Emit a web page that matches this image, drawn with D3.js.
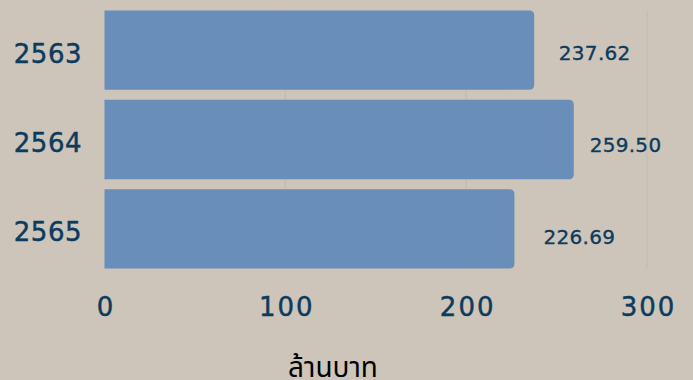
<!DOCTYPE html>
<html>
<head>
<meta charset="utf-8">
<script src="https://cdn.jsdelivr.net/npm/d3@7"></script>
<style>
  html, body { margin: 0; padding: 0; background: #cdc5b9; }
  svg { display: block; }
</style>
</head>
<body>
<svg id="chart" width="693" height="380"></svg>
<script>
const categories = ["2563", "2564", "2565"];
const values = [237.62, 259.50, 226.69];
const xTicks = [0, 100, 200, 300];
const xTitle = "ล้านบาท";

const W = 693, H = 380;
const svg = d3.select("#chart");
svg.append("rect").attr("width", W).attr("height", H).attr("fill", "#cdc5b9");

const x = d3.scaleLinear().domain([0, 300]).range([104.5, 647]);
const y = d3.scaleBand().domain(categories).range([5.5, 273.5]).paddingInner(0.112).paddingOuter(0.056);
const yLab = d3.scalePoint().domain(categories).range([53, 236.7]);

const textColor = "#0c3b5e";
const font = "'DejaVu Sans', sans-serif";

// grid
svg.append("g").selectAll("line").data(xTicks.slice(1)).join("line")
  .attr("x1", d => x(d)).attr("x2", d => x(d))
  .attr("y1", y(categories[0])).attr("y2", y(categories[categories.length - 1]) + y.bandwidth())
  .attr("stroke", "#c2baad").attr("stroke-width", 1);

// bars (rounded on the right)
const r = 5;
function barPath(v, c) {
  const x0 = x(0), x1 = x(v), y0 = y(c), y1 = y(c) + y.bandwidth();
  return `M${x0},${y0}H${x1 - r}Q${x1},${y0} ${x1},${y0 + r}V${y1 - r}Q${x1},${y1} ${x1 - r},${y1}H${x0}Z`;
}
svg.append("g").selectAll("path").data(categories).join("path")
  .attr("d", (c, i) => barPath(values[i], c))
  .attr("fill", "#698eb9");

// value labels
svg.append("g").selectAll("text").data(categories).join("text")
  .attr("x", (c, i) => 599.7 + 0.779 * (x(values[i]) - 540.6))
  .attr("y", c => yLab(c) + 7.3)
  .attr("text-anchor", "middle")
  .attr("font-family", font).attr("font-size", 20)
  .attr("letter-spacing", 0.3)
  .attr("fill", textColor).attr("stroke", textColor).attr("stroke-width", 0.35)
  .text((c, i) => values[i].toFixed(2));

// y axis labels
svg.append("g").selectAll("text").data(categories).join("text")
  .attr("x", 82)
  .attr("y", c => y(c) + y.bandwidth() / 2 + 3 + 9.5)
  .attr("text-anchor", "end")
  .attr("font-family", font).attr("font-size", 26)
  .attr("letter-spacing", 0.5)
  .attr("fill", textColor).attr("stroke", textColor).attr("stroke-width", 0.45)
  .text(c => c);

// x axis tick labels
const xAxis = d3.axisBottom(x).tickValues(xTicks).tickSize(0).tickPadding(0);
const gx = svg.append("g").attr("transform", "translate(0,298)").call(xAxis);
gx.select(".domain").remove();
gx.selectAll("text")
  .attr("dy", null).attr("y", 18)
  .attr("font-family", font).attr("font-size", 26)
  .attr("letter-spacing", 2)
  .attr("dx", 1)
  .attr("fill", textColor).attr("stroke", textColor).attr("stroke-width", 0.45);

// x axis title
svg.append("text")
  .attr("x", 333).attr("y", 377)
  .attr("text-anchor", "middle")
  .attr("font-family", "'Noto Sans Thai', 'Noto Sans', 'DejaVu Sans', sans-serif")
  .attr("font-size", 28)
  .attr("fill", "#000")
  .text(xTitle);
</script>
</body>
</html>
